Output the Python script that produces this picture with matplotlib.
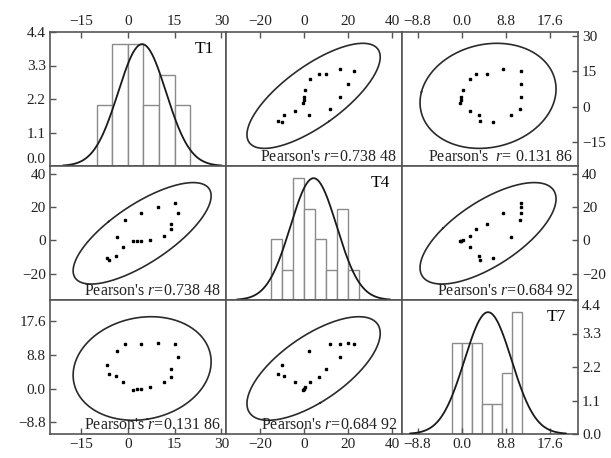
import numpy as np
import matplotlib
matplotlib.use("Agg")
import matplotlib.pyplot as plt
from matplotlib.ticker import FuncFormatter, FixedLocator

plt.rcParams['font.family'] = ['Liberation Serif', 'DejaVu Serif']
plt.rcParams['mathtext.fontset'] = 'custom'
plt.rcParams['mathtext.rm'] = 'Liberation Serif'
plt.rcParams['mathtext.it'] = 'Liberation Serif:italic'

# ---- data ----
names = ["T1", "T4", "T7"]
T1 = [-1.7, -3.7, -5.9, -6.6, -3.5, -0.8, 4.3, 9.6, 15.2, 16.1, 13.9, 13.7, 11.5, 7.1, 4.1, 2.9, 1.6]
T4 = [-4.2, -9.2, -11.9, -10.3, 2.0, 11.9, 16.3, 19.9, 22.5, 16.3, 9.8, 6.6, 2.4, 0.4, -0.2, -0.3, -0.4]
T7 = [1.6, 3.4, 3.7, 6.2, 9.9, 11.6, 11.8, 11.9, 11.8, 8.3, 5.0, 2.9, 1.6, 0.3, -0.2, -0.1, -0.3]

bins_T1 = [-10, -5, 0, 5, 10, 15, 20]
bins_T4 = [-15, -10, -5, 0, 5, 10, 15, 20, 25]
bins_T7 = [-2, 0, 2, 4, 6, 8, 10, 12]

ticks_T1 = [-15, 0, 15, 30]
ticks_T4 = [-20, 0, 20, 40]
ticks_T7 = [-8.8, 0.0, 8.8, 17.6]
count_ticks = [0.0, 1.1, 2.2, 3.3, 4.4]

pearson_texts = {
    (0, 1): "Pearson's $\\mathit{r}$=0.738 48",
    (0, 2): "Pearson's  $\\mathit{r}$= 0.131 86",
    (1, 0): "Pearson's $\\mathit{r}$=0.738 48",
    (1, 2): "Pearson's $\\mathit{r}$=0.684 92",
    (2, 0): "Pearson's $\\mathit{r}$=0.131 86",
    (2, 1): "Pearson's $\\mathit{r}$=0.684 92",
}

data = [np.array(T1), np.array(T4), np.array(T7)]
bins = [bins_T1, bins_T4, bins_T7]
ticks = [ticks_T1, ticks_T4, ticks_T7]
fmts = ["%g", "%g", "%.1f"]
lims = [(-25.0, 31.5), (-35.7, 44.5), (-11.9, 23.2)]
count_lim = (0, 4.4)
F_CRIT = 3.6823  # F(0.95; 2, 15)


def make_fmt(f):
    return FuncFormatter(lambda v, p: (f % v).replace("-", "\u2212"))


def pred_ellipse(x, y, npts=300):
    n = len(x)
    p = 2
    cov = np.cov(x, y)
    c = np.sqrt(p * (n - 1) * (n + 1) / (n * (n - p)) * F_CRIT)
    vals, vecs = np.linalg.eigh(cov)
    t = np.linspace(0, 2 * np.pi, npts)
    circ = np.vstack([np.cos(t), np.sin(t)])
    pts = vecs @ (np.sqrt(vals)[:, None] * circ) * c
    return x.mean() + pts[0], y.mean() + pts[1]


W, H = 611, 458
fig = plt.figure(figsize=(W / 100, H / 100), dpi=100)
L, R = 50 / W, 578 / W
B, T = 1 - 434 / H, 1 - 32 / H
w, h = (R - L) / 3, (T - B) / 3

spine_col = '#555555'
for r in range(3):
    for c in range(3):
        ax = fig.add_axes([L + c * w, T - (r + 1) * h, w, h])
        x = data[c]
        ax.set_xlim(*lims[c])
        ax.xaxis.set_major_locator(FixedLocator(ticks[c]))
        ax.xaxis.set_major_formatter(make_fmt(fmts[c]))
        if r == c:
            counts, edges = np.histogram(x, bins=bins[c])
            edges = np.array(edges, dtype=float)
            ax.bar(edges[:-1], counts, width=np.diff(edges), align='edge',
                   facecolor='white', edgecolor='#8a8a8a', linewidth=1.0, zorder=1)
            mu, sd = x.mean(), x.std(ddof=1)
            gx = np.linspace(mu - 3.3 * sd, mu + 3.3 * sd, 300)
            gy = counts.max() * np.exp(-0.5 * ((gx - mu) / sd) ** 2)
            ax.plot(gx, gy, color='#1a1a1a', lw=1.3, zorder=3)
            ax.set_ylim(*count_lim)
            ax.yaxis.set_major_locator(FixedLocator(count_ticks))
            ax.yaxis.set_major_formatter(make_fmt("%.1f"))
            ax.text(0.93, 0.93, names[c], transform=ax.transAxes, ha='right',
                    va='top', fontsize=12.5)
        else:
            y = data[r]
            ex, ey = pred_ellipse(x, y)
            ax.plot(ex, ey, color='#2a2a2a', lw=1.2, zorder=2)
            ax.plot(x, y, linestyle='none', marker='s', markersize=2.1,
                    color='black', zorder=3)
            ax.set_ylim(*lims[r])
            ax.yaxis.set_major_locator(FixedLocator(ticks[r]))
            ax.yaxis.set_major_formatter(make_fmt(fmts[r]))
            ax.text(0.97, 0.01, pearson_texts[(r, c)], transform=ax.transAxes,
                    ha='right', va='bottom', fontsize=11.5, color='#222222')
        for s in ax.spines.values():
            s.set_color(spine_col)
            s.set_linewidth(1.2)
        ax.tick_params(axis='both', direction='in', length=4, width=1,
                       color=spine_col, labelsize=11, labelcolor='#222222',
                       top=(r == 0), bottom=(r == 2), left=(c == 0), right=(c == 2),
                       labeltop=(r == 0), labelbottom=(r == 2),
                       labelleft=(c == 0), labelright=(c == 2))
        ax.tick_params(axis='x', pad=3)
        ax.tick_params(axis='y', pad=3)
        # edge labels shifted like the reference to avoid collisions
        yt = ax.yaxis.get_major_ticks()
        if r == 0 and c == 0:
            yt[0].label1.set_va('bottom')
        if r == 2 and c == 2:
            yt[-1].label2.set_va('top')

fig.savefig("out.png", dpi=100)
